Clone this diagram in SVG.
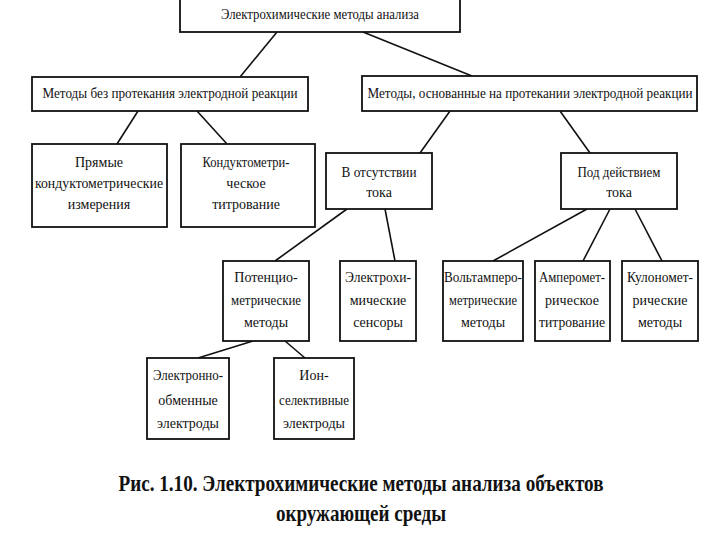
<svg xmlns="http://www.w3.org/2000/svg" width="720" height="540" viewBox="0 0 720 540">
<style>
.b{fill:#fff;stroke:#111;stroke-width:1.8}
.t{font-family:"Liberation Serif","Times New Roman",serif;font-size:14px;fill:#111;text-anchor:middle}
.c{font-family:"Liberation Serif","Times New Roman",serif;font-size:24px;font-weight:bold;fill:#111;text-anchor:middle}
.l{stroke:#111;stroke-width:1.6;fill:none}
</style>
<rect width="720" height="540" fill="#fff"/>
<g id="connectors">
<line class="l" x1="277" y1="32" x2="240" y2="77"/>
<line class="l" x1="363" y1="32" x2="472" y2="76"/>
<line class="l" x1="138" y1="111" x2="117" y2="144"/>
<line class="l" x1="197" y1="111" x2="227" y2="144"/>
<line class="l" x1="450" y1="111" x2="420" y2="153"/>
<line class="l" x1="560" y1="111" x2="590" y2="153"/>
<line class="l" x1="347" y1="209" x2="275" y2="261"/>
<line class="l" x1="385" y1="209" x2="395" y2="261"/>
<line class="l" x1="587" y1="209" x2="493" y2="261"/>
<line class="l" x1="610" y1="209" x2="583" y2="261"/>
<line class="l" x1="635" y1="209" x2="662" y2="261"/>
<line class="l" x1="253" y1="341" x2="198" y2="358"/>
<line class="l" x1="285" y1="341" x2="305" y2="358"/>
</g>
<g id="n-root"><rect class="b" x="180" y="-5" width="280" height="37"/><text class="t" x="320" y="19" textLength="198" lengthAdjust="spacingAndGlyphs">Электрохимические методы анализа</text></g>
<g id="n-without"><rect class="b" x="32" y="77" width="276" height="34"/><text class="t" x="170" y="98" textLength="255" lengthAdjust="spacingAndGlyphs">Методы без протекания электродной реакции</text></g>
<g id="n-with"><rect class="b" x="362" y="76" width="335" height="35"/><text class="t" x="530" y="98" textLength="325" lengthAdjust="spacingAndGlyphs">Методы, основанные на  протекании электродной реакции</text></g>
<g id="n-direct"><rect class="b" x="32" y="144" width="135" height="83"/><text class="t" x="99" y="167">Прямые</text><text class="t" x="99" y="188" textLength="128" lengthAdjust="spacingAndGlyphs">кондуктометрические</text><text class="t" x="99" y="209">измерения</text></g>
<g id="n-kondtitr"><rect class="b" x="181" y="144" width="134" height="83"/><text class="t" x="246" y="167" textLength="87" lengthAdjust="spacingAndGlyphs">Кондуктометри-</text><text class="t" x="246" y="188">ческое</text><text class="t" x="246" y="209">титрование</text></g>
<g id="n-nocurrent"><rect class="b" x="326" y="153" width="106" height="56"/><text class="t" x="379" y="177" textLength="75" lengthAdjust="spacingAndGlyphs">В отсутствии</text><text class="t" x="379" y="197">тока</text></g>
<g id="n-current"><rect class="b" x="561" y="153" width="116" height="56"/><text class="t" x="619" y="177" textLength="83" lengthAdjust="spacingAndGlyphs">Под действием</text><text class="t" x="619" y="197">тока</text></g>
<g id="n-potent"><rect class="b" x="223" y="261" width="86" height="80"/><text class="t" x="266" y="282">Потенцио-</text><text class="t" x="266" y="305" textLength="70" lengthAdjust="spacingAndGlyphs">метрические</text><text class="t" x="266" y="327">методы</text></g>
<g id="n-sensors"><rect class="b" x="340" y="261" width="76" height="80"/><text class="t" x="378" y="282" textLength="66" lengthAdjust="spacingAndGlyphs">Электрохи-</text><text class="t" x="378" y="305">мические</text><text class="t" x="378" y="327">сенсоры</text></g>
<g id="n-voltam"><rect class="b" x="443" y="261" width="80" height="80"/><text class="t" x="483" y="282" textLength="78" lengthAdjust="spacingAndGlyphs">Вольтамперо-</text><text class="t" x="483" y="305" textLength="68" lengthAdjust="spacingAndGlyphs">метрические</text><text class="t" x="483" y="327">методы</text></g>
<g id="n-amper"><rect class="b" x="535" y="261" width="75" height="80"/><text class="t" x="572" y="282" textLength="66" lengthAdjust="spacingAndGlyphs">Амперомет-</text><text class="t" x="572" y="305">рическое</text><text class="t" x="572" y="327" textLength="66" lengthAdjust="spacingAndGlyphs">титрование</text></g>
<g id="n-coulomb"><rect class="b" x="622" y="261" width="76" height="80"/><text class="t" x="660" y="282" textLength="66" lengthAdjust="spacingAndGlyphs">Кулономет-</text><text class="t" x="660" y="305">рические</text><text class="t" x="660" y="327">методы</text></g>
<g id="n-electron"><rect class="b" x="147" y="358" width="82" height="81"/><text class="t" x="188" y="380" textLength="70" lengthAdjust="spacingAndGlyphs">Электронно-</text><text class="t" x="188" y="405">обменные</text><text class="t" x="188" y="428">электроды</text></g>
<g id="n-ion"><rect class="b" x="274" y="358" width="80" height="81"/><text class="t" x="314" y="380">Ион-</text><text class="t" x="314" y="405" textLength="70" lengthAdjust="spacingAndGlyphs">селективные</text><text class="t" x="314" y="428">электроды</text></g>
<g id="caption">
<text class="c" x="361" y="491" textLength="485" lengthAdjust="spacingAndGlyphs">Рис. 1.10. Электрохимические методы анализа объектов</text>
<text class="c" x="361" y="521" textLength="170" lengthAdjust="spacingAndGlyphs">окружающей среды</text>
</g>
</svg>
